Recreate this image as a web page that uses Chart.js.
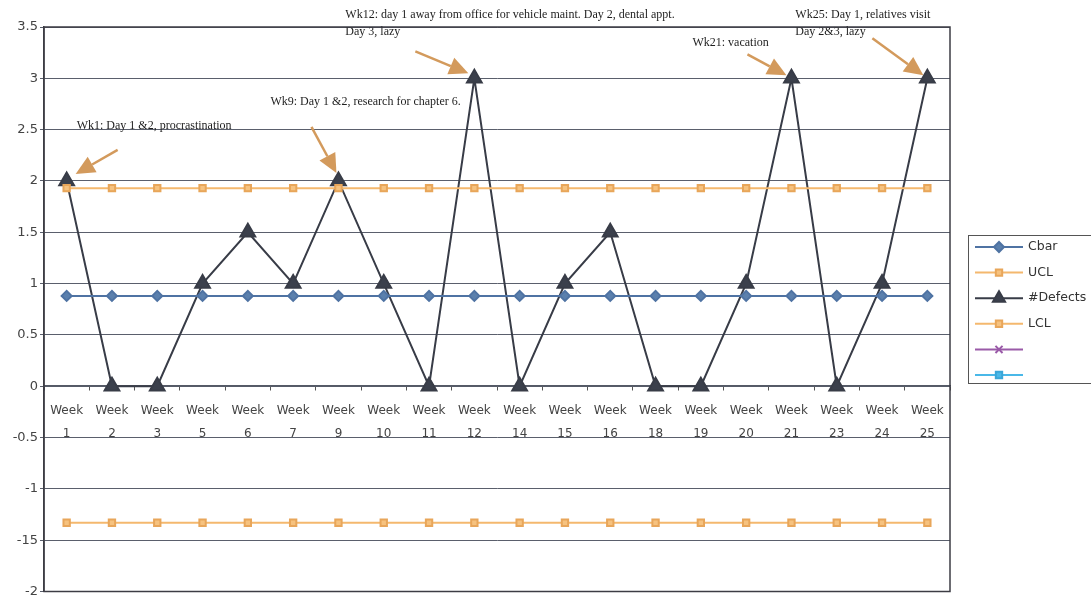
<!DOCTYPE html>
<html>
<head>
<meta charset="utf-8">
<script src="https://cdn.jsdelivr.net/npm/chart.js@4/dist/chart.umd.min.js"></script>
<style>
  html, body { margin: 0; padding: 0; background: #ffffff; overflow: hidden; }
  #wrap { width: 1091px; height: 602px; position: relative; }
</style>
</head>
<body>
<div id="wrap"><canvas id="c"></canvas></div>
<script>
// Weekly defect counts with centre line and control limits
const weeks = [1, 2, 3, 5, 6, 7, 9, 10, 11, 12, 14, 15, 16, 18, 19, 20, 21, 23, 24, 25];
const defects = [2, 0, 0, 1, 1.5, 1, 2, 1, 0, 3, 0, 1, 1.5, 0, 0, 1, 3, 0, 1, 3];
const cbarValue = 0.88;
const uclValue = 1.93;
const lclValue = -1.33;

const yTickValues = [-2, -1.5, -1, -0.5, 0, 0.5, 1, 1.5, 2, 2.5, 3, 3.5];
const yTickLabels = ['-2', '-15', '-1', '-0.5', '0', '0.5', '1', '1.5', '2', '2.5', '3', '3.5'];

// Notes attached to individual weeks (week number, text lines)
const noteWeeks = [1, 9, 12, 21, 25];
const noteTexts = [
  ['Wk1: Day 1 &2, procrastination'],
  ['Wk9: Day 1 &2, research for chapter 6.'],
  ['Wk12: day 1 away from office for vehicle maint. Day 2, dental appt.', 'Day 3, lazy'],
  ['Wk21: vacation'],
  ['Wk25: Day 1, relatives visit', 'Day 2&3, lazy']
];

const labels = weeks.map(w => ['Week', String(w)]);
const cbar = weeks.map(() => cbarValue);
const ucl = weeks.map(() => uclValue);
const lcl = weeks.map(() => lclValue);

// Placement of each note relative to its point: text origin, arrow tail, arrow tip
const notePlacement = {
  1:  { text: [10, -55], tail: [51, -31], tip: [9, -7] },
  9:  { text: [-68, -79], tail: [-27, -54], tip: [-2, -8] },
  12: { text: [-129, -63], tail: [-59, -27], tip: [-6, -5] },
  21: { text: [-99, -35], tail: [-44, -24], tip: [-5, -3] },
  25: { text: [-132, -63], tail: [-55, -40], tip: [-4, -3] }
};

const notesPlugin = {
  id: 'weekNotes',
  afterDatasetsDraw(chart) {
    const ctx = chart.ctx;
    const meta = chart.getDatasetMeta(2);
    ctx.save();
    noteWeeks.forEach((wk, n) => {
      const idx = weeks.indexOf(wk);
      const pt = meta.data[idx];
      const pl = notePlacement[wk];
      const px = pt.x, py = pt.y;
      // text
      ctx.fillStyle = '#1e1e1e';
      ctx.font = '12px "Liberation Serif", "DejaVu Serif", serif';
      ctx.textBaseline = 'middle';
      ctx.textAlign = 'left';
      noteTexts[n].forEach((line, li) => {
        ctx.fillText(line, px + pl.text[0], py + pl.text[1] + li * 17);
      });
      // arrow
      const tx = px + pl.tail[0], ty = py + pl.tail[1];
      const hx = px + pl.tip[0], hy = py + pl.tip[1];
      const ang = Math.atan2(hy - ty, hx - tx);
      const headLen = 19, headHalf = 9;
      const bx = hx - headLen * Math.cos(ang), by = hy - headLen * Math.sin(ang);
      ctx.strokeStyle = '#d39a5c';
      ctx.fillStyle = '#d39a5c';
      ctx.lineWidth = 2.5;
      ctx.beginPath();
      ctx.moveTo(tx, ty);
      ctx.lineTo(bx, by);
      ctx.stroke();
      ctx.beginPath();
      ctx.moveTo(hx, hy);
      ctx.lineTo(bx + headHalf * Math.sin(ang), by - headHalf * Math.cos(ang));
      ctx.lineTo(bx - headHalf * Math.sin(ang), by + headHalf * Math.cos(ang));
      ctx.closePath();
      ctx.fill();
    });
    ctx.restore();
  }
};

const framePlugin = {
  id: 'plotFrame',
  afterDraw(chart) {
    const { ctx, chartArea: a } = chart;
    ctx.save();
    ctx.strokeStyle = '#3c3c44';
    ctx.lineWidth = 1.5;
    ctx.strokeRect(a.left, a.top, a.right - a.left, a.bottom - a.top);
    ctx.restore();
  }
};

const legendPlugin = {
  id: 'sideLegend',
  afterDraw(chart) {
    const ctx = chart.ctx;
    const a = chart.chartArea;
    const boxL = a.right + 18, boxT = 235, boxB = 383;
    ctx.save();
    ctx.strokeStyle = '#555555';
    ctx.lineWidth = 1;
    ctx.strokeRect(boxL + 0.5, boxT + 0.5, 200, boxB - boxT);
    chart.data.datasets.forEach((ds, i) => {
      const y = 247 + i * 25.6;
      const x0 = boxL + 7, x1 = boxL + 55, xm = (x0 + x1) / 2;
      ctx.strokeStyle = ds.borderColor;
      ctx.lineWidth = ds.borderWidth;
      ctx.beginPath();
      ctx.moveTo(x0, y);
      ctx.lineTo(x1, y);
      ctx.stroke();
      ctx.fillStyle = ds.pointBackgroundColor;
      ctx.strokeStyle = ds.pointBorderColor;
      Chart.helpers.drawPoint(ctx, {
        pointStyle: ds.pointStyle,
        radius: ds.legendRadius,
        borderWidth: 1,
        rotation: 0
      }, xm, y);
      ctx.fillStyle = '#333333';
      ctx.font = '12.5px "DejaVu Sans", sans-serif';
      ctx.textAlign = 'left';
      ctx.textBaseline = 'middle';
      ctx.fillText(ds.label, x1 + 5, y);
    });
    ctx.restore();
  }
};

new Chart(document.getElementById('c'), {
  type: 'line',
  data: {
    labels: labels,
    datasets: [
      {
        label: 'Cbar', data: cbar,
        borderColor: '#4f73a3', borderWidth: 2,
        pointStyle: 'rectRot', pointRadius: 5, legendRadius: 5,
        pointBackgroundColor: '#5b80ad', pointBorderColor: '#4f73a3'
      },
      {
        label: 'UCL', data: ucl,
        borderColor: '#f4b86e', borderWidth: 2,
        pointStyle: 'rect', pointRadius: 4.5, legendRadius: 4.5,
        pointBackgroundColor: '#f6c27f', pointBorderColor: '#e8a65a'
      },
      {
        label: '#Defects', data: defects,
        borderColor: '#383c47', borderWidth: 2,
        pointStyle: 'triangle', pointRadius: 8.5, legendRadius: 7,
        pointBackgroundColor: '#3b404c', pointBorderColor: '#383c47'
      },
      {
        label: 'LCL', data: lcl,
        borderColor: '#f4b86e', borderWidth: 2,
        pointStyle: 'rect', pointRadius: 4.5, legendRadius: 4.5,
        pointBackgroundColor: '#f6c27f', pointBorderColor: '#e8a65a'
      },
      {
        label: '', data: [],
        borderColor: '#9a5aa8', borderWidth: 2,
        pointStyle: 'crossRot', pointRadius: 5, legendRadius: 5,
        pointBackgroundColor: '#9a5aa8', pointBorderColor: '#9a5aa8'
      },
      {
        label: '', data: [],
        borderColor: '#4ab8e8', borderWidth: 2,
        pointStyle: 'rect', pointRadius: 4.5, legendRadius: 4.5,
        pointBackgroundColor: '#4ab8e8', pointBorderColor: '#3aa6d8'
      }
    ]
  },
  options: {
    responsive: true,
    maintainAspectRatio: false,
    animation: false,
    layout: { padding: { top: 27, right: 141, bottom: 5, left: 0 } },
    plugins: {
      legend: { display: false },
      tooltip: { enabled: false }
    },
    elements: { line: { tension: 0 } },
    scales: {
      x: {
        type: 'category',
        offset: true,
        position: { y: 0 },
        grid: { display: true, drawOnChartArea: false, offset: true, tickLength: 4, color: '#555555' },
        border: { display: true, color: '#555a66', width: 1.5 },
        ticks: {
          color: '#444444',
          font: { family: '"DejaVu Sans", sans-serif', size: 12, lineHeight: 1.9 },
          padding: 9,
          maxRotation: 0,
          autoSkip: false
        }
      },
      y: {
        type: 'linear',
        min: -2, max: 3.5,
        afterFit(scale) {
          scale.width = 44;
        },
        grid: { color: '#5a5f6c', lineWidth: 1, drawTicks: true, tickLength: 4 },
        border: { display: true, color: '#3c3c44', width: 1.5 },
        ticks: {
          stepSize: 0.5,
          color: '#444444',
          padding: 2,
          font: { family: '"DejaVu Sans", sans-serif', size: 13 },
          callback(v) {
            const k = yTickValues.findIndex(t => Math.abs(t - v) < 1e-9);
            return k >= 0 ? yTickLabels[k] : '';
          }
        }
      }
    }
  },
  plugins: [notesPlugin, framePlugin, legendPlugin]
});
</script>
</body>
</html>
